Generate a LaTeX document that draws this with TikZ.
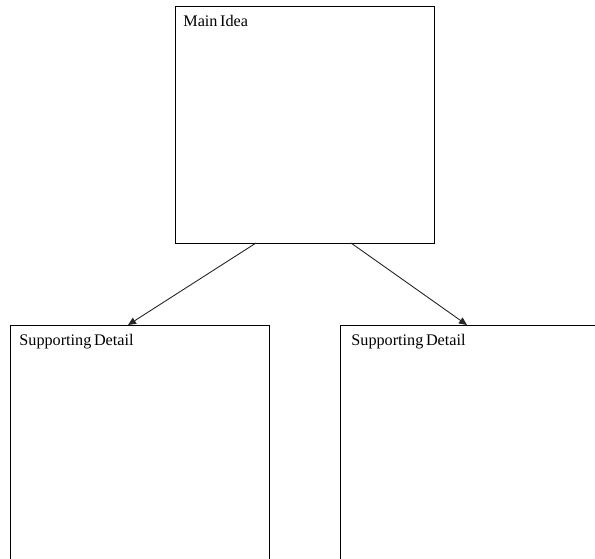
\documentclass[tikz,border=0pt]{standalone}
\usepackage{fontspec}
\setmainfont{Liberation Serif}
\usetikzlibrary{arrows.meta,calc}
\newcommand{\boxcaptionfont}{\fontsize{16.2}{18}\selectfont\spaceskip=2.6pt plus 0.5pt\relax}

\begin{document}
\begin{tikzpicture}[x=1pt,y=-1pt,thick]
    % `box' is used for the three empty boxes.
    % `caption' is used for the text in a box's upper left corner.
    % `link' is used for the arrows from the main idea.
    \tikzstyle{box} = [draw,line width=0.9pt,fill=white,minimum width=259pt,
                       minimum height=237pt,inner sep=0pt,outer sep=0pt]
    \tikzstyle{caption} = [anchor=north west,inner sep=0pt,font=\boxcaptionfont]
    \tikzstyle{link} = [draw=black!85,line width=0.9pt,
                        -{Triangle[length=8pt,width=7pt]}]
    %
    \useasboundingbox (0,0) rectangle (595,558);
    \clip (0,0) rectangle (595,558);
    %
    \node[box] (main) at (304.5,124.5) {};
    \node[box,minimum height=260pt] (left) at (139.5,455) {};
    \node[box,minimum height=260pt] (right) at (469.5,455) {};
    %
    \node[caption] (main text) at ($(main.north west)+(8,9)$) {Main Idea};
    \node[caption] (left text) at ($(left.north west)+(9,9)$) {Supporting Detail};
    \node[caption] (right text) at ($(right.north west)+(11,9)$) {Supporting Detail};
    %
    % Ends of the arrows on the box edges.
    \coordinate (main out1) at ($(main.south)+(-48.5,0)$);
    \coordinate (main out2) at ($(main.south)+(46.5,0)$);
    \coordinate (left in) at ($(left.north)+(-11.5,0)$);
    \coordinate (right in) at ($(right.north)+(-2.5,0)$);
    %
    \draw[link] (main out1) -- (left in);
    \draw[link] (main out2) -- (right in);
\end{tikzpicture}
\end{document}
